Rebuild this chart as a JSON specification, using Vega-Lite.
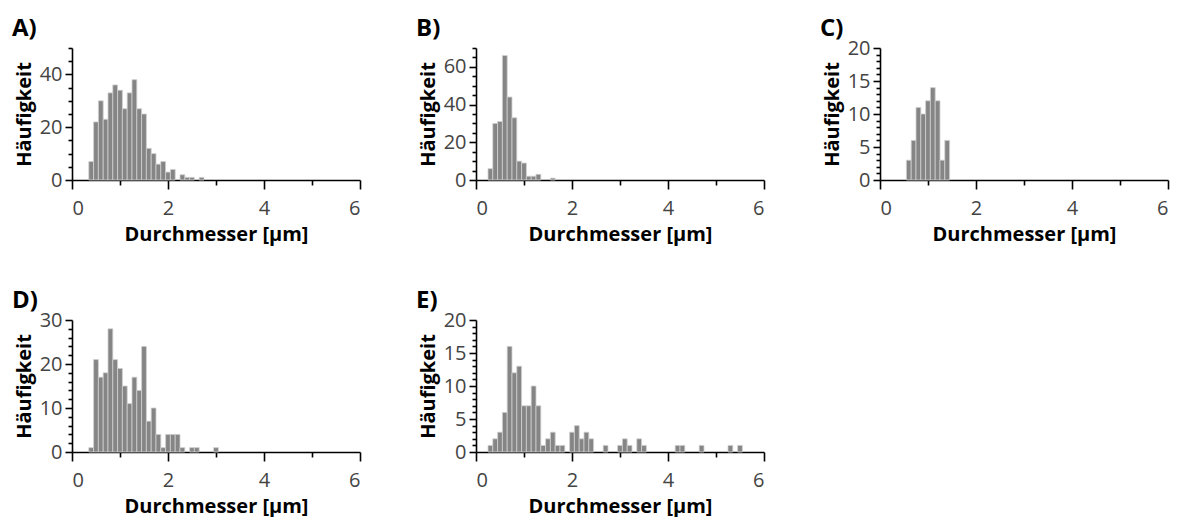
{
  "$schema": "https://vega.github.io/schema/vega-lite/v6.json",
  "padding": {"left": 12, "top": 17, "right": 5, "bottom": 5},
  "background": "white",
  "config": {
    "view": {"stroke": null},
    "font": "Open Sans",
    "axis": {
      "domain": true,
      "ticks": true,
      "domainColor": "#000000",
      "domainWidth": 1.6,
      "tickColor": "#000000",
      "tickWidth": 1.6,
      "labelColor": "#444444",
      "labelFontSize": 20,
      "labelFont": "Open Sans",
      "titleFont": "Open Sans",
      "titleFontSize": 20,
      "titleFontWeight": "bold",
      "titleColor": "#000000",
      "grid": false,
      "labelOverlap": false,
      "zindex": 1
    },
    "title": {"font": "Open Sans", "fontSize": 24, "fontWeight": "bold", "color": "#000000", "anchor": "start", "frame": "group", "dx": -60, "offset": -3}
  },
  "datasets": {
    "hist": [
      {"panel": "A", "x0": 0.35, "x1": 0.45, "count": 7},
      {"panel": "A", "x0": 0.45, "x1": 0.55, "count": 22},
      {"panel": "A", "x0": 0.55, "x1": 0.65, "count": 30},
      {"panel": "A", "x0": 0.65, "x1": 0.75, "count": 23},
      {"panel": "A", "x0": 0.75, "x1": 0.85, "count": 33},
      {"panel": "A", "x0": 0.85, "x1": 0.95, "count": 36},
      {"panel": "A", "x0": 0.95, "x1": 1.05, "count": 34},
      {"panel": "A", "x0": 1.05, "x1": 1.15, "count": 27},
      {"panel": "A", "x0": 1.15, "x1": 1.25, "count": 33},
      {"panel": "A", "x0": 1.25, "x1": 1.35, "count": 38},
      {"panel": "A", "x0": 1.35, "x1": 1.45, "count": 27},
      {"panel": "A", "x0": 1.45, "x1": 1.55, "count": 25},
      {"panel": "A", "x0": 1.55, "x1": 1.65, "count": 12},
      {"panel": "A", "x0": 1.65, "x1": 1.75, "count": 10},
      {"panel": "A", "x0": 1.75, "x1": 1.85, "count": 6},
      {"panel": "A", "x0": 1.85, "x1": 1.95, "count": 7},
      {"panel": "A", "x0": 1.95, "x1": 2.05, "count": 3},
      {"panel": "A", "x0": 2.05, "x1": 2.15, "count": 4},
      {"panel": "A", "x0": 2.25, "x1": 2.35, "count": 2},
      {"panel": "A", "x0": 2.35, "x1": 2.45, "count": 1},
      {"panel": "A", "x0": 2.45, "x1": 2.55, "count": 1},
      {"panel": "A", "x0": 2.65, "x1": 2.75, "count": 1},
      {"panel": "B", "x0": 0.25, "x1": 0.35, "count": 6},
      {"panel": "B", "x0": 0.35, "x1": 0.45, "count": 30},
      {"panel": "B", "x0": 0.45, "x1": 0.55, "count": 31},
      {"panel": "B", "x0": 0.55, "x1": 0.65, "count": 66},
      {"panel": "B", "x0": 0.65, "x1": 0.75, "count": 44},
      {"panel": "B", "x0": 0.75, "x1": 0.85, "count": 33},
      {"panel": "B", "x0": 0.85, "x1": 0.95, "count": 10},
      {"panel": "B", "x0": 0.95, "x1": 1.05, "count": 9},
      {"panel": "B", "x0": 1.05, "x1": 1.15, "count": 2},
      {"panel": "B", "x0": 1.15, "x1": 1.25, "count": 2},
      {"panel": "B", "x0": 1.25, "x1": 1.35, "count": 3},
      {"panel": "B", "x0": 1.55, "x1": 1.65, "count": 1},
      {"panel": "C", "x0": 0.55, "x1": 0.65, "count": 3},
      {"panel": "C", "x0": 0.65, "x1": 0.75, "count": 6},
      {"panel": "C", "x0": 0.75, "x1": 0.85, "count": 11},
      {"panel": "C", "x0": 0.85, "x1": 0.95, "count": 10},
      {"panel": "C", "x0": 0.95, "x1": 1.05, "count": 12},
      {"panel": "C", "x0": 1.05, "x1": 1.15, "count": 14},
      {"panel": "C", "x0": 1.15, "x1": 1.25, "count": 12},
      {"panel": "C", "x0": 1.25, "x1": 1.35, "count": 3},
      {"panel": "C", "x0": 1.35, "x1": 1.45, "count": 6},
      {"panel": "D", "x0": 0.35, "x1": 0.45, "count": 1},
      {"panel": "D", "x0": 0.45, "x1": 0.55, "count": 21},
      {"panel": "D", "x0": 0.55, "x1": 0.65, "count": 17},
      {"panel": "D", "x0": 0.65, "x1": 0.75, "count": 18},
      {"panel": "D", "x0": 0.75, "x1": 0.85, "count": 28},
      {"panel": "D", "x0": 0.85, "x1": 0.95, "count": 21},
      {"panel": "D", "x0": 0.95, "x1": 1.05, "count": 19},
      {"panel": "D", "x0": 1.05, "x1": 1.15, "count": 15},
      {"panel": "D", "x0": 1.15, "x1": 1.25, "count": 11},
      {"panel": "D", "x0": 1.25, "x1": 1.35, "count": 17},
      {"panel": "D", "x0": 1.35, "x1": 1.45, "count": 14},
      {"panel": "D", "x0": 1.45, "x1": 1.55, "count": 24},
      {"panel": "D", "x0": 1.55, "x1": 1.65, "count": 7},
      {"panel": "D", "x0": 1.65, "x1": 1.75, "count": 10},
      {"panel": "D", "x0": 1.75, "x1": 1.85, "count": 4},
      {"panel": "D", "x0": 1.85, "x1": 1.95, "count": 1},
      {"panel": "D", "x0": 1.95, "x1": 2.05, "count": 4},
      {"panel": "D", "x0": 2.05, "x1": 2.15, "count": 4},
      {"panel": "D", "x0": 2.15, "x1": 2.25, "count": 4},
      {"panel": "D", "x0": 2.25, "x1": 2.35, "count": 1},
      {"panel": "D", "x0": 2.45, "x1": 2.55, "count": 1},
      {"panel": "D", "x0": 2.55, "x1": 2.65, "count": 1},
      {"panel": "D", "x0": 2.95, "x1": 3.05, "count": 1},
      {"panel": "E", "x0": 0.25, "x1": 0.35, "count": 1},
      {"panel": "E", "x0": 0.35, "x1": 0.45, "count": 2},
      {"panel": "E", "x0": 0.45, "x1": 0.55, "count": 3},
      {"panel": "E", "x0": 0.55, "x1": 0.65, "count": 6},
      {"panel": "E", "x0": 0.65, "x1": 0.75, "count": 16},
      {"panel": "E", "x0": 0.75, "x1": 0.85, "count": 12},
      {"panel": "E", "x0": 0.85, "x1": 0.95, "count": 13},
      {"panel": "E", "x0": 0.95, "x1": 1.05, "count": 7},
      {"panel": "E", "x0": 1.05, "x1": 1.15, "count": 7},
      {"panel": "E", "x0": 1.15, "x1": 1.25, "count": 10},
      {"panel": "E", "x0": 1.25, "x1": 1.35, "count": 7},
      {"panel": "E", "x0": 1.35, "x1": 1.45, "count": 1},
      {"panel": "E", "x0": 1.45, "x1": 1.55, "count": 2},
      {"panel": "E", "x0": 1.55, "x1": 1.65, "count": 3},
      {"panel": "E", "x0": 1.65, "x1": 1.75, "count": 1},
      {"panel": "E", "x0": 1.75, "x1": 1.85, "count": 1},
      {"panel": "E", "x0": 1.95, "x1": 2.05, "count": 3},
      {"panel": "E", "x0": 2.05, "x1": 2.15, "count": 4},
      {"panel": "E", "x0": 2.15, "x1": 2.25, "count": 2},
      {"panel": "E", "x0": 2.25, "x1": 2.35, "count": 3},
      {"panel": "E", "x0": 2.35, "x1": 2.45, "count": 2},
      {"panel": "E", "x0": 2.65, "x1": 2.75, "count": 1},
      {"panel": "E", "x0": 2.95, "x1": 3.05, "count": 1},
      {"panel": "E", "x0": 3.05, "x1": 3.15, "count": 2},
      {"panel": "E", "x0": 3.15, "x1": 3.25, "count": 1},
      {"panel": "E", "x0": 3.35, "x1": 3.45, "count": 2},
      {"panel": "E", "x0": 3.45, "x1": 3.55, "count": 1},
      {"panel": "E", "x0": 4.15, "x1": 4.25, "count": 1},
      {"panel": "E", "x0": 4.25, "x1": 4.35, "count": 1},
      {"panel": "E", "x0": 4.65, "x1": 4.75, "count": 1},
      {"panel": "E", "x0": 5.25, "x1": 5.35, "count": 1},
      {"panel": "E", "x0": 5.45, "x1": 5.55, "count": 1}
    ]
  },
  "columns": 3,
  "spacing": {"row": 140, "column": 116},
  "bounds": "flush",
  "concat": [
    {
      "title": "A)",
      "width": 288, "height": 132,
      "data": {"name": "hist"},
      "transform": [{"filter": "datum.panel === 'A'"}],
      "mark": {"type": "rect", "fill": "#858585", "stroke": "#d0d0d0", "strokeWidth": 0.8},
      "encoding": {
        "x": {"field": "x0", "type": "quantitative", "scale": {"domain": [0, 6], "nice": false},
          "axis": {"title": "Durchmesser [µm]", "format": "d", "values": [0,0.5,1,1.5,2,2.5,3,3.5,4,4.5,5,5.5,6], "labelExpr": "datum.value % 2 === 0 ? datum.label : ''", "tickSize": {"condition": {"test": "datum.value % 2 === 0", "value": 9}, "value": 5}, "labelPadding": 9, "titlePadding": 6}},
        "x2": {"field": "x1"},
        "y": {"field": "count", "type": "quantitative", "scale": {"domain": [0, 50], "nice": false},
          "axis": {"title": "Häufigkeit", "format": "d", "values": [0,5,10,15,20,25,30,35,40,45,50], "labelExpr": "datum.value % 20 === 0 ? datum.label : ''", "tickSize": {"condition": {"test": "datum.value % 20 === 0", "value": 7}, "value": 4}, "labelPadding": 3, "titlePadding": 4.5}},
        "y2": {"datum": 0}
      }
    },
    {
      "title": "B)",
      "width": 288, "height": 132,
      "data": {"name": "hist"},
      "transform": [{"filter": "datum.panel === 'B'"}],
      "mark": {"type": "rect", "fill": "#858585", "stroke": "#d0d0d0", "strokeWidth": 0.8},
      "encoding": {
        "x": {"field": "x0", "type": "quantitative", "scale": {"domain": [0, 6], "nice": false},
          "axis": {"title": "Durchmesser [µm]", "format": "d", "values": [0,0.5,1,1.5,2,2.5,3,3.5,4,4.5,5,5.5,6], "labelExpr": "datum.value % 2 === 0 ? datum.label : ''", "tickSize": {"condition": {"test": "datum.value % 2 === 0", "value": 9}, "value": 5}, "labelPadding": 9, "titlePadding": 6}},
        "x2": {"field": "x1"},
        "y": {"field": "count", "type": "quantitative", "scale": {"domain": [0, 70], "nice": false},
          "axis": {"title": "Häufigkeit", "format": "d", "values": [0,5,10,15,20,25,30,35,40,45,50,55,60,65,70], "labelExpr": "datum.value % 20 === 0 ? datum.label : ''", "tickSize": {"condition": {"test": "datum.value % 20 === 0", "value": 7}, "value": 4}, "labelPadding": 3, "titlePadding": 4.5}},
        "y2": {"datum": 0}
      }
    },
    {
      "title": "C)",
      "width": 288, "height": 132,
      "data": {"name": "hist"},
      "transform": [{"filter": "datum.panel === 'C'"}],
      "mark": {"type": "rect", "fill": "#858585", "stroke": "#d0d0d0", "strokeWidth": 0.8},
      "encoding": {
        "x": {"field": "x0", "type": "quantitative", "scale": {"domain": [0, 6], "nice": false},
          "axis": {"title": "Durchmesser [µm]", "format": "d", "values": [0,0.5,1,1.5,2,2.5,3,3.5,4,4.5,5,5.5,6], "labelExpr": "datum.value % 2 === 0 ? datum.label : ''", "tickSize": {"condition": {"test": "datum.value % 2 === 0", "value": 9}, "value": 5}, "labelPadding": 9, "titlePadding": 6}},
        "x2": {"field": "x1"},
        "y": {"field": "count", "type": "quantitative", "scale": {"domain": [0, 20], "nice": false},
          "axis": {"title": "Häufigkeit", "format": "d", "values": [0,1,2,3,4,5,6,7,8,9,10,11,12,13,14,15,16,17,18,19,20], "labelExpr": "datum.value % 5 === 0 ? datum.label : ''", "tickSize": {"condition": {"test": "datum.value % 5 === 0", "value": 7}, "value": 4}, "labelPadding": 3, "titlePadding": 4.5}},
        "y2": {"datum": 0}
      }
    },
    {
      "title": "D)",
      "width": 288, "height": 132,
      "data": {"name": "hist"},
      "transform": [{"filter": "datum.panel === 'D'"}],
      "mark": {"type": "rect", "fill": "#858585", "stroke": "#d0d0d0", "strokeWidth": 0.8},
      "encoding": {
        "x": {"field": "x0", "type": "quantitative", "scale": {"domain": [0, 6], "nice": false},
          "axis": {"title": "Durchmesser [µm]", "format": "d", "values": [0,0.5,1,1.5,2,2.5,3,3.5,4,4.5,5,5.5,6], "labelExpr": "datum.value % 2 === 0 ? datum.label : ''", "tickSize": {"condition": {"test": "datum.value % 2 === 0", "value": 9}, "value": 5}, "labelPadding": 9, "titlePadding": 6}},
        "x2": {"field": "x1"},
        "y": {"field": "count", "type": "quantitative", "scale": {"domain": [0, 30], "nice": false},
          "axis": {"title": "Häufigkeit", "format": "d", "values": [0,2,4,6,8,10,12,14,16,18,20,22,24,26,28,30], "labelExpr": "datum.value % 10 === 0 ? datum.label : ''", "tickSize": {"condition": {"test": "datum.value % 10 === 0", "value": 7}, "value": 4}, "labelPadding": 3, "titlePadding": 4.5}},
        "y2": {"datum": 0}
      }
    },
    {
      "title": "E)",
      "width": 288, "height": 132,
      "data": {"name": "hist"},
      "transform": [{"filter": "datum.panel === 'E'"}],
      "mark": {"type": "rect", "fill": "#858585", "stroke": "#d0d0d0", "strokeWidth": 0.8},
      "encoding": {
        "x": {"field": "x0", "type": "quantitative", "scale": {"domain": [0, 6], "nice": false},
          "axis": {"title": "Durchmesser [µm]", "format": "d", "values": [0,0.5,1,1.5,2,2.5,3,3.5,4,4.5,5,5.5,6], "labelExpr": "datum.value % 2 === 0 ? datum.label : ''", "tickSize": {"condition": {"test": "datum.value % 2 === 0", "value": 9}, "value": 5}, "labelPadding": 9, "titlePadding": 6}},
        "x2": {"field": "x1"},
        "y": {"field": "count", "type": "quantitative", "scale": {"domain": [0, 20], "nice": false},
          "axis": {"title": "Häufigkeit", "format": "d", "values": [0,1,2,3,4,5,6,7,8,9,10,11,12,13,14,15,16,17,18,19,20], "labelExpr": "datum.value % 5 === 0 ? datum.label : ''", "tickSize": {"condition": {"test": "datum.value % 5 === 0", "value": 7}, "value": 4}, "labelPadding": 3, "titlePadding": 4.5}},
        "y2": {"datum": 0}
      }
    }
  ]
}
